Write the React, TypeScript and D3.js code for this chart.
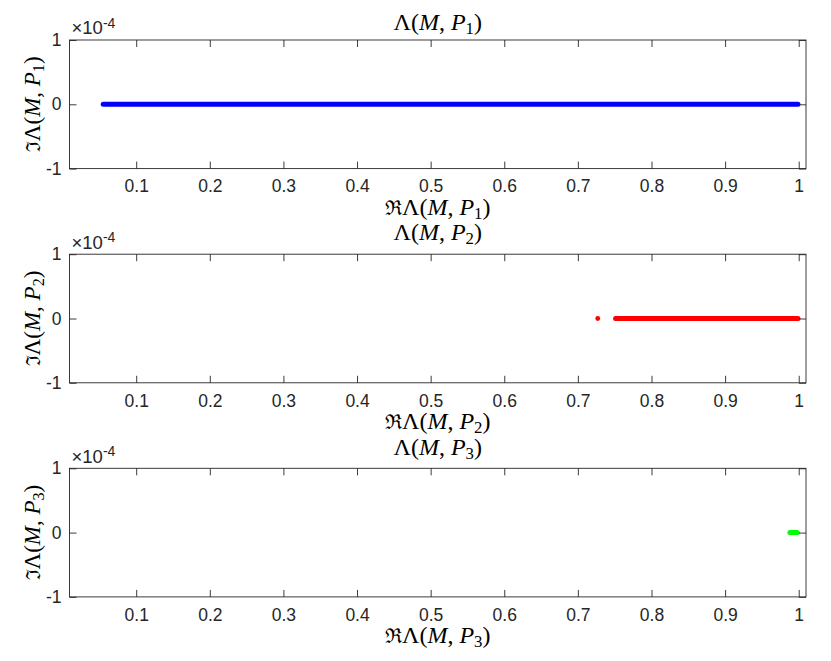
import * as d3 from "d3";
import {useRef, useEffect} from "react";

// tick values
const xTickValues = [0.1, 0.2, 0.3, 0.4, 0.5, 0.6, 0.7, 0.8, 0.9, 1];
const yTickValues = [-1e-4, 0, 1e-4];
const xDomain: [number, number] = [0.0094, 1.0099];
const yDomain: [number, number] = [-1e-4, 1e-4];

// real parts of the eigenvalues, as dense runs [from, to] and single points
// (imaginary part is zero for all of them)
const p1Runs: [number, number][] = [[0.0552, 0.999]];
const p1Single: number[] = [];
const p2Runs: [number, number][] = [[0.7512, 0.999]];
const p2Single: number[] = [0.727];
const p3Runs: [number, number][] = [[0.988, 0.998]];
const p3Single: number[] = [];
const imagValue = 0;

const panelNames = ["1", "2", "3"];
const panelColors = ["#0000ff", "#ff0000", "#00ff00"];

const W = 831;
const H = 661;
const marginLeft = 69.5;
const marginRight = 25;
const panelTops = [40, 254.2, 468.3];
const panelHeight = 128.6;
const titleBase = [29.5, 239.5, 455];

const axisColor = "#262626";
const sansFont = "'Liberation Sans', Arial, Helvetica, sans-serif";
const serifFont = "'Liberation Serif', 'DejaVu Serif', 'Times New Roman', serif";

const x = d3.scaleLinear().domain(xDomain).range([marginLeft, W - marginRight]);

interface PanelProps {
  idx: number;
  runs: [number, number][];
  single: number[];
}

const Lam = ({sub, prefix}: {sub: string; prefix?: string}) => (
  <>
    {prefix ? <tspan fontFamily="'DejaVu Serif', serif" fontSize="0.85em">{prefix}</tspan> : null}
    <tspan>{"Λ("}</tspan>
    <tspan fontStyle="italic">M</tspan>
    <tspan>, </tspan>
    <tspan fontStyle="italic">P</tspan>
    <tspan fontSize="0.7em" dy="0.25em">{sub}</tspan>
    <tspan dy="-0.175em">)</tspan>
  </>
);

const Panel = ({idx, runs, single}: PanelProps) => {
  const top = panelTops[idx];
  const bottom = top + panelHeight;
  const color = panelColors[idx];
  const name = panelNames[idx];

  const gx = useRef<SVGGElement | null>(null);
  const gxTop = useRef<SVGGElement | null>(null);
  const gy = useRef<SVGGElement | null>(null);
  const gyRight = useRef<SVGGElement | null>(null);

  const y = d3.scaleLinear().domain(yDomain).range([bottom, top]);

  useEffect(() => {
    const style = (g: d3.Selection<SVGGElement, unknown, null, undefined>) => {
      g.select(".domain").remove();
      g.attr("font-size", 17.5).attr("font-family", sansFont).attr("color", axisColor);
      g.selectAll("line").attr("stroke-width", 0.9);
    };
    if (gx.current) {
      d3.select(gx.current)
        .call(
          d3.axisBottom(x).tickValues(xTickValues).tickSizeInner(-7).tickSizeOuter(0)
            .tickPadding(11.3).tickFormat((d) => String(d))
        )
        .call(style);
    }
    if (gxTop.current) {
      d3.select(gxTop.current)
        .call(d3.axisTop(x).tickValues(xTickValues).tickSizeInner(-7).tickSizeOuter(0).tickFormat(() => ""))
        .call(style);
    }
    if (gy.current) {
      d3.select(gy.current)
        .call(
          d3.axisLeft(y).tickValues(yTickValues).tickSizeInner(-7).tickSizeOuter(0)
            .tickPadding(8).tickFormat((d) => String(Math.round(+d * 1e4)))
        )
        .call(style);
    }
    if (gyRight.current) {
      d3.select(gyRight.current)
        .call(d3.axisRight(y).tickValues(yTickValues).tickSizeInner(-7).tickSizeOuter(0).tickFormat(() => ""))
        .call(style);
    }
  }, [gx, gxTop, gy, gyRight, y]);

  const line = d3.line<[number, number]>().x((d) => x(d[0])).y((d) => y(d[1]));
  const midY = (top + bottom) / 2;
  const midX = (marginLeft + W - marginRight) / 2;

  return (
    <g>
      <text x={midX} y={titleBase[idx]} textAnchor="middle" fontFamily={serifFont} fontSize={24} fill="#000">
        <Lam sub={name} />
      </text>

      {runs.map((r, i) => (
        <path
          key={i}
          d={line([[r[0], imagValue], [r[1], imagValue]]) ?? ""}
          stroke={color}
          strokeWidth={5}
          strokeLinecap="round"
          fill="none"
        />
      ))}
      {single.map((v, i) => (
        <circle key={i} cx={x(v)} cy={y(imagValue)} r={2.4} fill={color} />
      ))}

      <rect x={marginLeft} y={top} width={W - marginRight - marginLeft} height={panelHeight}
        fill="none" stroke={axisColor} strokeWidth={0.9} />
      <g ref={gx} transform={`translate(0,${bottom})`} />
      <g ref={gxTop} transform={`translate(0,${top})`} />
      <g ref={gy} transform={`translate(${marginLeft},0)`} />
      <g ref={gyRight} transform={`translate(${W - marginRight},0)`} />

      <text x={marginLeft + 2} y={top - 5.7} fontFamily={sansFont} fontSize={18.5} fill={axisColor}>
        <tspan>×10</tspan>
        <tspan fontSize={14} dy={-6.5}>-4</tspan>
      </text>

      <text x={midX} y={bottom + 46} textAnchor="middle" fontFamily={serifFont} fontSize={24} fill="#000">
        <Lam sub={name} prefix="ℜ" />
      </text>
      <text transform={`translate(40,${midY}) rotate(-90)`} textAnchor="middle"
        fontFamily={serifFont} fontSize={23} fill="#000">
        <Lam sub={name} prefix="ℑ" />
      </text>
    </g>
  );
};

export default function App() {
  return (
    <svg width={W} height={H} style={{position: "absolute", left: 0, top: 0, background: "#fff"}}>
      <rect width={W} height={H} fill="#fff" />
      <Panel idx={0} runs={p1Runs} single={p1Single} />
      <Panel idx={1} runs={p2Runs} single={p2Single} />
      <Panel idx={2} runs={p3Runs} single={p3Single} />
    </svg>
  );
}
